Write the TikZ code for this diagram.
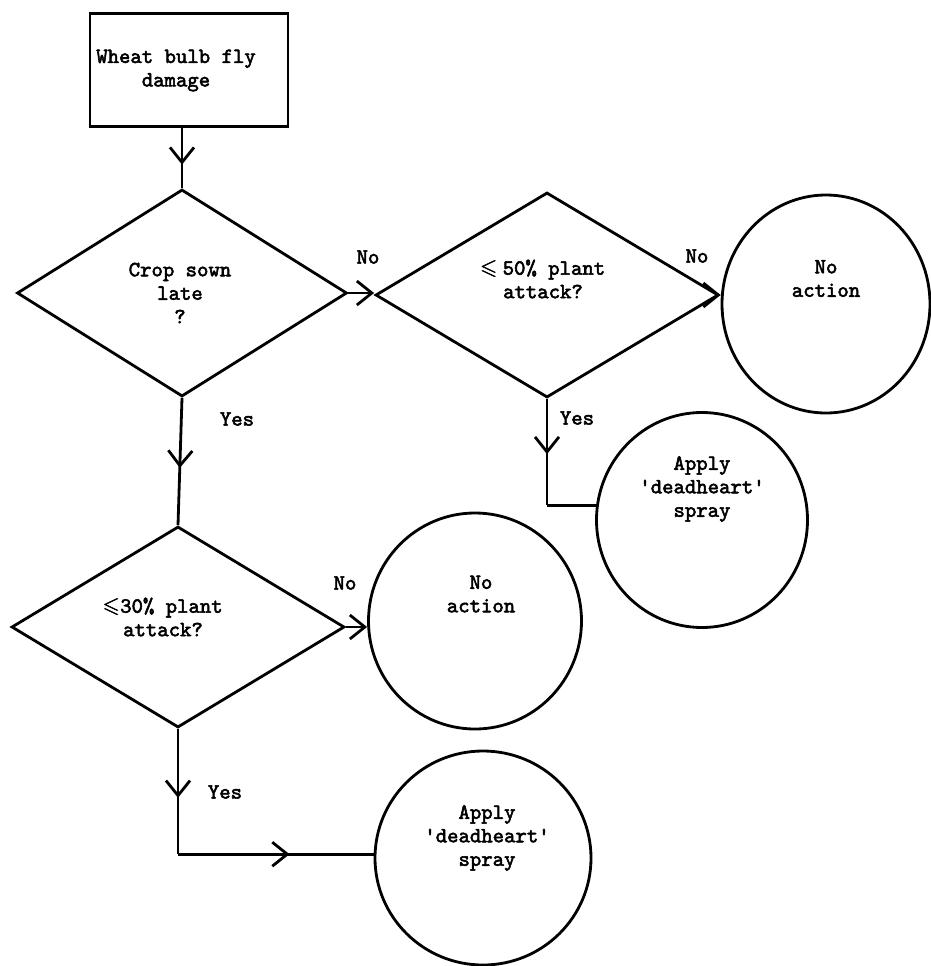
\documentclass[tikz,border=0pt]{standalone}
\usepackage{amsmath,amssymb}
\usepackage{fontspec}
\newfontfamily\twfont{lmmono10-regular.otf}[FakeBold=2.5]
\usetikzlibrary{shapes.geometric,arrows.meta,decorations.markings}
\begin{document}
\begin{tikzpicture}[x=1bp,y=-1bp,
  ln/.style={line width=2.8bp, draw=black},
  vtip/.tip={Straight Barb[length=15bp,width=24bp]},
  midarrow/.style={postaction={decorate},
    decoration={markings, mark=at position #1 with {\arrow{vtip}}}},
  dia/.style={diamond, ln, inner sep=0pt},
  circ/.style={ellipse, ln, inner sep=0pt},
  txt/.style={align=center, inner sep=0pt,
    font=\twfont\fontsize{21.7bp}{23.5bp}\selectfont}
]
\useasboundingbox (0,0) rectangle (931,966);

% shapes
\node[rectangle, ln, minimum width=198bp, minimum height=113bp] (box) at (189,70) {};
\node[dia, minimum width=330bp, minimum height=207bp] (d1) at (182,293) {};
\node[dia, minimum width=343bp, minimum height=205bp] (d2) at (547,295) {};
\node[dia, minimum width=333bp, minimum height=201bp] (d3) at (178,627) {};
\node[circ, minimum width=208bp, minimum height=218bp] (c1) at (826,304) {};
\node[circ, minimum width=211bp, minimum height=215bp] (c4) at (702,520) {};
\node[circ, minimum width=213bp, minimum height=216bp] (c2) at (475,621) {};
\node[circ, minimum width=216bp, minimum height=214bp] (c3) at (483,858) {};

% texts in shapes
\node[txt] (t0) at (176,70.5) {Wheat bulb fly\\damage};
\node[txt] (t1) at (180,293) {Crop sown\\late\\?};
\node[txt] (t2) at (543,279) {$\pmb{\leqslant}$\hspace{5bp}50\% plant\\attack?};
\node[txt] (t3) at (163,617) {$\pmb{\leqslant}$30\% plant\\attack?};
\node[txt] (tc1) at (826,278.5) {No\\action};
\node[txt] (tc4) at (702,489) {Apply\\\textquotesingle deadheart\textquotesingle\\spray};
\node[txt] (tc2) at (481,594) {No\\action};
\node[txt] (tc3) at (487,838) {Apply\\\textquotesingle deadheart\textquotesingle\\spray};

% labels
\node[txt] (n1) at (368,257) {No};
\node[txt] (n2) at (697,256) {No};
\node[txt] (y1) at (237,419) {Yes};
\node[txt] (y2) at (577,418) {Yes};
\node[txt] (n3) at (345,583) {No};
\node[txt] (y3) at (225,792) {Yes};

% connectors
\draw[ln, midarrow=0.61] (box.south -| d1.north) -- (d1.north);
\draw[ln, midarrow=0.55] (d1.south) -- (d3.north);
\draw[ln, -{vtip}] (d1.east) -- (d1.east -| d2.west);
\draw[ln, -{vtip}] (d2.east) -- (d2.east -| c1.west);
\coordinate (k2) at (d2.south |- c4.172);
\draw[ln, midarrow=0.52] (d2.south) -- (k2);
\draw[ln] (k2) -- (c4.172);
\draw[ln, -{vtip}] (d3.east) -- (d3.east -| c2.west);
\coordinate (k3) at (d3.south |- c3.178);
\draw[ln, midarrow=0.55] (d3.south) -- (k3);
\draw[ln, midarrow=0.57] (k3) -- (c3.178);
\end{tikzpicture}
\end{document}
